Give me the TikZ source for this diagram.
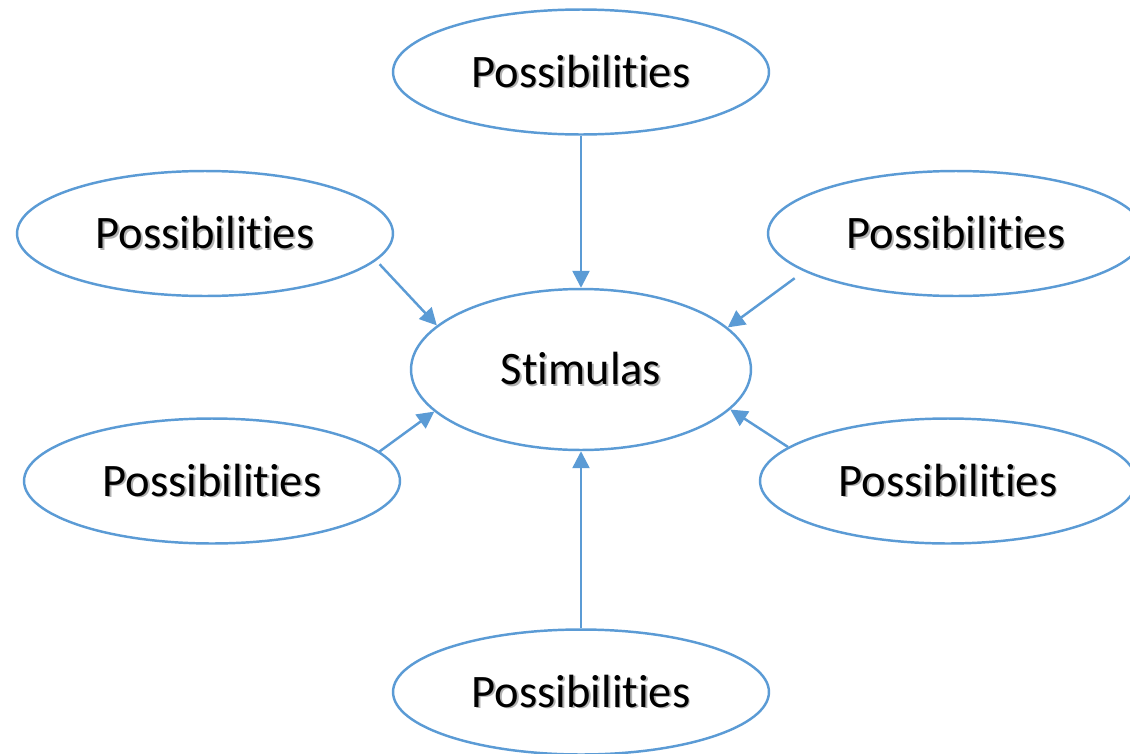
\documentclass[tikz,border=0pt]{standalone}
\usepackage{fontspec}
\setmainfont[RawFeature=-liga]{Carlito}
\usetikzlibrary{shapes.geometric,arrows.meta}
\definecolor{ovalblue}{HTML}{5B9BD5}
% text with a faint drop shadow
\newcommand{\shadowed}[1]{\makebox[0pt][l]{\hspace{1pt}\raisebox{-1pt}{\color{black!30}#1}}#1}
\begin{document}
\begin{tikzpicture}[x=0.02cm, y=-0.02cm,
  oval/.style={draw=ovalblue, line width=1.4pt, ellipse, inner sep=0pt,
    minimum width=7.52cm, minimum height=2.5cm, font=\fontsize{26.5}{30}\selectfont},
  core/.style={oval, minimum width=6.8cm, minimum height=3.22cm},
  link/.style={draw=ovalblue, line width=1.4pt, -{Triangle[length=0.34cm, width=0.34cm]}}]
\useasboundingbox (0,0) rectangle (1130,754);
\node[core] (stim) at (581,369.5) {\shadowed{Stimulas}};
\node[oval] (top) at (581,72) {\shadowed{Possibilities}};
\node[oval] (lu) at (205,233.5) {\shadowed{Possibilities}};
\node[oval] (ru) at (956,233.5) {\shadowed{Possibilities}};
\node[oval] (ll) at (212,481) {\shadowed{Possibilities}};
\node[oval] (rl) at (948,481) {\shadowed{Possibilities}};
\node[oval] (bot) at (581,692) {\shadowed{Possibilities}};
\draw[link] (top) -- (stim);
\draw[link] (bot) -- (stim);
\draw[link, shorten <=0.1cm] (lu.-9) -- (stim.163);
\draw[link, shorten <=0.23cm] (ru.194) -- (stim.16);
\draw[link] (ll.10) -- (stim.196);
\draw[link] (rl.168) -- (stim.345);
\end{tikzpicture}
\end{document}
